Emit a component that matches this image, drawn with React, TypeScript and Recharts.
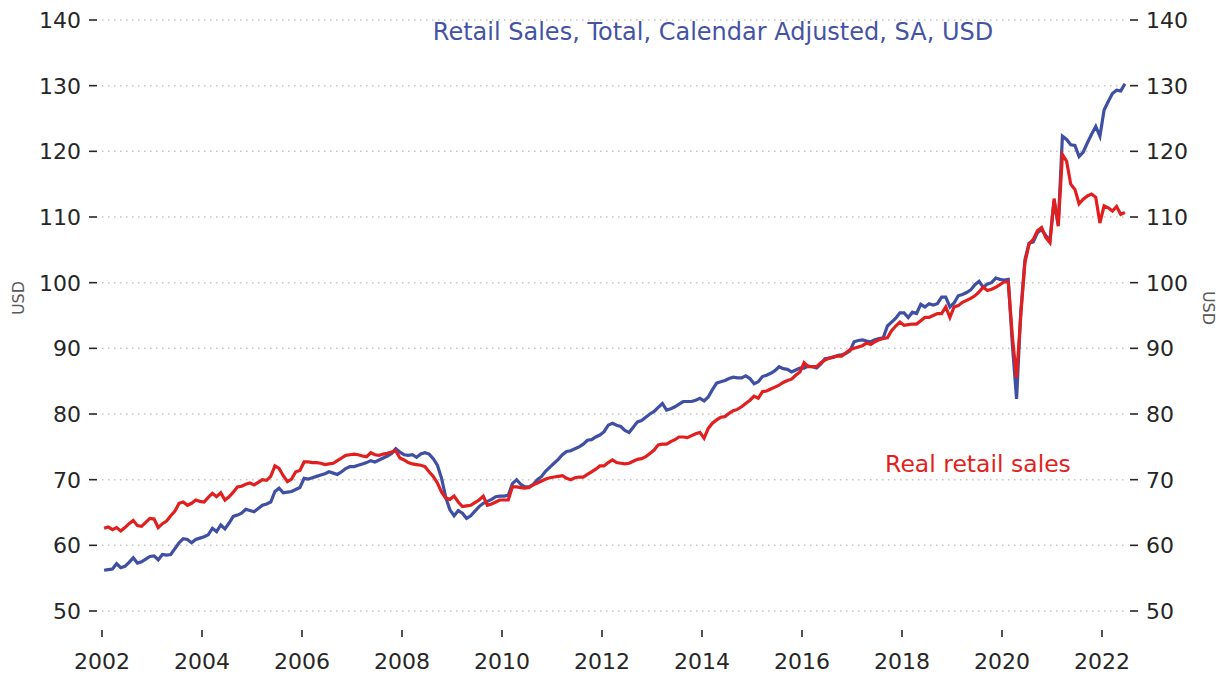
import { LineChart, Line, XAxis, YAxis, CartesianGrid } from 'recharts';

const startYear = 2002;

// Retail Sales, Total, Calendar Adjusted, SA, USD (monthly, Jan 2002 - Jun 2022)
const nominalSales = [
    56.2, 56.3, 56.4, 57.2, 56.6, 56.8, 57.4, 58.1, 57.3, 57.5, 57.9, 58.3,
    58.4, 57.8, 58.6, 58.5, 58.6, 59.5, 60.4, 61.0, 60.9, 60.4, 60.9, 61.1,
    61.3, 61.6, 62.6, 62.1, 63.1, 62.5, 63.4, 64.4, 64.6, 64.9, 65.5, 65.3,
    65.1, 65.6, 66.1, 66.3, 66.6, 68.2, 68.7, 68.0, 68.1, 68.2, 68.5, 68.8,
    70.2, 70.1, 70.3, 70.5, 70.7, 70.9, 71.2, 71.0, 70.8, 71.2, 71.7, 72.0,
    72.0, 72.2, 72.4, 72.6, 72.9, 72.7, 73.0, 73.3, 73.6, 74.0, 74.7, 74.2,
    73.8, 73.7, 73.8, 73.4, 73.9, 74.1, 73.9, 73.2, 72.2, 70.2, 67.3, 65.4,
    64.5, 65.3, 64.9, 64.1, 64.5, 65.2, 65.9, 66.4, 66.7, 67.0, 67.4, 67.5,
    67.5, 67.6, 69.4, 70.0, 69.3, 68.9, 68.9, 69.3, 70.0, 70.5, 71.3, 71.9,
    72.5, 73.1, 73.8, 74.3, 74.4, 74.7, 75.0, 75.4, 76.0, 76.1, 76.5, 76.8,
    77.3, 78.3, 78.6, 78.3, 78.1, 77.5, 77.2, 78.0, 78.8, 79.0, 79.5, 80.0,
    80.4, 81.0, 81.6, 80.6, 80.8, 81.1, 81.5, 81.9, 81.9, 81.9, 82.1, 82.4,
    82.0, 82.6, 83.7, 84.7, 84.9, 85.1, 85.4, 85.6, 85.5, 85.5, 85.8, 85.4,
    84.6, 84.9, 85.7, 85.9, 86.2, 86.6, 87.2, 86.9, 86.8, 86.4, 86.7, 87.0,
    87.0, 87.3, 87.2, 87.0, 87.6, 88.4, 88.5, 88.6, 88.9, 89.0, 89.2, 89.6,
    91.0, 91.2, 91.3, 91.1, 91.0, 91.3, 91.5, 91.6, 93.4, 94.0, 94.6, 95.4,
    95.4, 94.7, 95.5, 95.3, 96.7, 96.3, 96.8, 96.6, 96.8, 97.8, 97.8, 96.3,
    96.9, 98.0, 98.2, 98.5, 98.9, 99.7, 100.2, 99.3, 99.8, 100.0, 100.7, 100.5,
    100.4, 100.5, 90.5, 82.3, 95.5, 103.5, 106.0, 106.2, 107.6, 108.1, 107.2, 106.4,
    112.4, 108.9, 122.3, 121.8, 121.0, 120.9, 119.2, 119.9, 121.3, 122.6, 123.8, 122.3,
    126.3, 127.6, 128.8, 129.3, 129.2, 130.3,
];

// Real retail sales
const realSales = [
    62.6, 62.8, 62.4, 62.7, 62.2, 62.7, 63.3, 63.8, 63.0, 62.9, 63.5, 64.1,
    64.0, 62.7, 63.3, 63.7, 64.5, 65.2, 66.4, 66.6, 66.1, 66.4, 66.9, 66.7,
    66.6, 67.3, 67.9, 67.4, 68.0, 66.9, 67.4, 68.1, 68.9, 69.0, 69.3, 69.5,
    69.2, 69.6, 70.0, 69.9, 70.5, 72.1, 71.7, 70.6, 69.7, 70.1, 71.2, 71.4,
    72.7, 72.7, 72.6, 72.6, 72.5, 72.3, 72.4, 72.5, 72.9, 73.3, 73.7, 73.8,
    73.9, 73.8, 73.6, 73.5, 74.1, 73.8, 73.7, 73.9, 74.0, 74.2, 74.4, 73.3,
    73.0, 72.6, 72.4, 72.3, 72.2, 72.0, 71.2, 70.5, 69.5, 68.1, 67.2, 67.0,
    67.5, 66.6, 65.9, 66.0, 66.1, 66.5, 66.9, 67.5, 66.1, 66.3, 66.6, 66.9,
    66.9, 66.9, 68.9, 68.9, 68.8, 68.7, 68.8, 69.2, 69.5, 69.8, 70.1, 70.3,
    70.4, 70.5, 70.6, 70.2, 70.0, 70.3, 70.4, 70.4, 70.8, 71.2, 71.6, 72.1,
    72.1, 72.6, 73.0, 72.6, 72.5, 72.4, 72.5, 72.8, 73.1, 73.2, 73.5, 74.0,
    74.5, 75.3, 75.4, 75.4, 75.8, 76.1, 76.5, 76.5, 76.4, 76.7, 77.0, 77.2,
    76.3, 77.8, 78.6, 79.1, 79.5, 79.6, 80.1, 80.5, 80.7, 81.1, 81.6, 82.1,
    82.7, 82.4, 83.4, 83.5, 83.8, 84.1, 84.4, 84.8, 85.1, 85.3, 85.9, 86.4,
    87.8, 87.2, 87.2, 87.2, 87.8, 88.2, 88.5, 88.7, 88.8, 88.8, 89.3, 89.8,
    90.0, 90.2, 90.4, 90.8, 90.6, 91.0, 91.3, 91.5, 91.6, 92.7, 93.4, 94.0,
    93.5, 93.6, 93.7, 93.7, 94.2, 94.7, 94.7, 95.0, 95.3, 95.3, 96.3, 94.7,
    96.3, 96.5, 97.0, 97.3, 97.6, 98.0, 98.6, 99.3, 98.8, 99.0, 99.3, 99.7,
    100.1, 100.1, 91.7, 85.5, 95.0, 103.0, 105.9, 106.6, 107.9, 108.4, 106.9, 106.1,
    112.8, 108.6, 119.5, 118.5, 115.0, 114.2, 112.0, 112.7, 113.2, 113.5, 113.0, 109.1,
    111.7, 111.4, 110.9, 111.6, 110.4, 110.7,
];

const xTicks = [2002, 2004, 2006, 2008, 2010, 2012, 2014, 2016, 2018, 2020, 2022];
const yTicks = [50, 60, 70, 80, 90, 100, 110, 120, 130, 140];

const BLUE = '#3f4fa3';
const RED = '#e21f1f';
const TICK_COLOR = '#262626';
const FONT = '"DejaVu Sans", sans-serif';

// each month sits in the middle of its month on the time axis
const data = nominalSales.map((v, i) => ({
    t: startYear + (i + 0.5) / 12,
    nominal: v,
    real: realSales[i],
}));

const LeftTick = ({ y, payload }: any) => (
    <g>
        <line x1={89} x2={97} y1={y} y2={y} stroke={TICK_COLOR} strokeWidth={1.6} />
        <text x={81} y={y} dy="0.36em" textAnchor="end" fill={TICK_COLOR} fontSize={22} fontFamily={FONT}>
            {payload.value}
        </text>
    </g>
);

const RightTick = ({ y, payload }: any) => (
    <g>
        <line x1={1130} x2={1138} y1={y} y2={y} stroke={TICK_COLOR} strokeWidth={1.6} />
        <text x={1146} y={y} dy="0.36em" textAnchor="start" fill={TICK_COLOR} fontSize={22} fontFamily={FONT}>
            {payload.value}
        </text>
    </g>
);

const BottomTick = ({ x, payload }: any) => (
    <g>
        <line x1={x} x2={x} y1={630} y2={637} stroke={TICK_COLOR} strokeWidth={1.6} />
        <text x={x} y={669} textAnchor="middle" fill={TICK_COLOR} fontSize={22} fontFamily={FONT}>
            {payload.value}
        </text>
    </g>
);

export default function App() {
    return (
        <div style={{ position: 'absolute', left: 0, top: 0, width: 1222, height: 677, background: '#fff' }}>
            <LineChart width={1222} height={677} data={data} margin={{ top: 20, right: 35, bottom: 6, left: 42 }}>
                <CartesianGrid yAxisId="left" vertical={false} stroke="#c4c4c4" strokeWidth={1.5} strokeDasharray="1.5 4.5" />
                <XAxis
                    dataKey="t"
                    type="number"
                    domain={[2002, 2022.5]}
                    ticks={xTicks}
                    allowDataOverflow
                    axisLine={false}
                    tickLine={false}
                    height={60}
                    tick={<BottomTick />}
                />
                <YAxis
                    yAxisId="left"
                    domain={[50, 140]}
                    ticks={yTicks}
                    axisLine={false}
                    tickLine={false}
                    width={60}
                    tick={<LeftTick />}
                />
                <YAxis
                    yAxisId="right"
                    orientation="right"
                    domain={[50, 140]}
                    ticks={yTicks}
                    axisLine={false}
                    tickLine={false}
                    width={60}
                    tick={<RightTick />}
                />
                <Line yAxisId="left" type="linear" dataKey="nominal" stroke={BLUE} strokeWidth={3.2} dot={false} isAnimationActive={false} />
                <Line yAxisId="right" type="linear" dataKey="real" stroke={RED} strokeWidth={3.2} dot={false} isAnimationActive={false} />
                <text x={713} y={40} textAnchor="middle" fill="#4553a5" fontSize={24} fontFamily={FONT}>
                    Retail Sales, Total, Calendar Adjusted, SA, USD
                </text>
                <text x={978} y={472} textAnchor="middle" fill={RED} fontSize={23.5} fontFamily={FONT}>
                    Real retail sales
                </text>
                <text x={18} y={298} textAnchor="middle" dominantBaseline="central" fill="#595959" fontSize={16} fontFamily={FONT} transform="rotate(-90 18 298)">
                    USD
                </text>
                <text x={1208} y={308} textAnchor="middle" dominantBaseline="central" fill="#595959" fontSize={16} fontFamily={FONT} transform="rotate(90 1208 308)">
                    USD
                </text>
            </LineChart>
        </div>
    );
}
